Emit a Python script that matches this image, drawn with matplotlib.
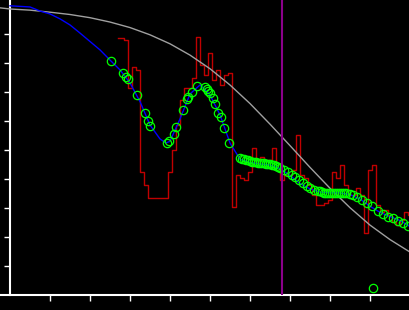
import matplotlib
matplotlib.use("Agg")
import matplotlib.pyplot as plt

# smooth reference curve (grey)
grey_x = [-2.5, 0, 5, 10, 15, 20, 25, 30, 35, 40, 45, 50, 55, 60, 65, 70, 75,
          80, 85, 90, 95, 100]
grey_y = [0.990, 0.986, 0.982, 0.975, 0.967, 0.956, 0.941, 0.922, 0.897, 0.866,
          0.827, 0.780, 0.724, 0.660, 0.589, 0.515, 0.440, 0.368, 0.301, 0.241,
          0.191, 0.148]

# fitted curve (blue)
blue_x = [0, 2.5, 5, 7.5, 10, 12.5, 15, 17.5, 20, 22.5, 25, 27.5, 30, 32.5, 35,
          37.5, 39, 40, 42.5, 45, 47.5, 50, 52.5, 55, 57.5, 60, 62.5, 65, 67.5,
          70, 72.5, 75, 77.5, 80, 82.5, 85, 87.5, 90, 92.5, 95, 97.5, 100]
blue_y = [0.997, 0.995, 0.993, 0.979, 0.969, 0.952, 0.931, 0.903, 0.874, 0.845,
          0.810, 0.776, 0.731, 0.667, 0.586, 0.538, 0.524, 0.530, 0.607, 0.693,
          0.724, 0.690, 0.621, 0.524, 0.468, 0.457, 0.452, 0.448, 0.436, 0.412,
          0.384, 0.366, 0.355, 0.352, 0.352, 0.346, 0.331, 0.306, 0.285, 0.270,
          0.257, 0.236]

# raw measurement (red)
red_x = list(range(27, 101))
red_y = [0.886, 0.886, 0.879, 0.714, 0.786, 0.776, 0.424, 0.379, 0.334, 0.334,
         0.334, 0.334, 0.334, 0.424, 0.500, 0.586, 0.672, 0.714, 0.714, 0.748,
         0.890, 0.793, 0.759, 0.834, 0.741, 0.776, 0.724, 0.759, 0.766, 0.303,
         0.414, 0.403, 0.397, 0.424, 0.507, 0.455, 0.476, 0.466, 0.466, 0.507,
         0.455, 0.397, 0.414, 0.414, 0.431, 0.552, 0.414, 0.403, 0.379, 0.345,
         0.310, 0.310, 0.317, 0.328, 0.424, 0.403, 0.448, 0.379, 0.345, 0.345,
         0.369, 0.345, 0.214, 0.431, 0.448, 0.310, 0.286, 0.293, 0.276, 0.252,
         0.241, 0.259, 0.286, 0.276]

# sampled points (green circles)
pts_x = [25.25, 28.25, 29.0, 29.5, 31.75, 33.75, 34.5, 35.0, 39.25, 39.75,
         41.0, 41.5, 43.25, 44.25, 44.5, 45.5, 46.75, 48.75, 49.25, 49.5, 50.0,
         50.75, 51.25, 52.0, 52.75, 53.5, 54.75,
         57.5, 58.0, 58.5, 59.0, 59.5, 60.0, 60.5, 61.0, 61.5, 62.0, 62.5, 63.0,
         63.5, 64.0, 64.5, 65.0, 65.5, 66.0, 66.5, 67.0, 67.5,
         68.5, 69.5, 70.5, 71.25, 72.25, 73.25, 74.25, 75.0, 76.0, 77.0, 77.5,
         78.0, 78.5, 79.0, 79.5, 80.0, 80.5, 81.0, 81.5, 82.0, 82.5, 83.0, 83.5,
         84.0, 85.0, 85.75, 86.75, 88.0, 89.25, 90.5, 92.0, 93.25, 94.5, 95.75,
         97.0, 98.25, 99.5, 90.75]
pts_y = [0.807, 0.766, 0.752, 0.745, 0.690, 0.628, 0.600, 0.583, 0.524, 0.531,
         0.555, 0.579, 0.638, 0.676, 0.683, 0.700, 0.721, 0.717, 0.710, 0.703,
         0.697, 0.679, 0.659, 0.628, 0.614, 0.576, 0.524,
         0.472, 0.470, 0.468, 0.466, 0.464, 0.461, 0.459, 0.459, 0.458, 0.455,
         0.455, 0.455, 0.455, 0.453, 0.452, 0.452, 0.449, 0.447, 0.445, 0.441,
         0.438,
         0.431, 0.424, 0.414, 0.407, 0.397, 0.386, 0.376, 0.369, 0.362, 0.359,
         0.357, 0.354, 0.352, 0.352, 0.352, 0.352, 0.352, 0.352, 0.352, 0.352,
         0.352, 0.352, 0.352, 0.351, 0.348, 0.345, 0.338, 0.328, 0.317, 0.307,
         0.290, 0.279, 0.269, 0.266, 0.255, 0.248, 0.238, 0.024]

marker_x = 68.1

x_ticks = [10, 20, 30, 40, 50, 60, 70, 80, 90]
y_ticks = [0.1, 0.2, 0.3, 0.4, 0.5, 0.6, 0.7, 0.8, 0.9]

fig = plt.figure(figsize=(4.1, 3.1), dpi=100, facecolor="black")
ax = fig.add_axes([0, 15 / 310, 1, 295 / 310], facecolor="black")

ax.plot(red_x, red_y, color="#c00000", lw=1, drawstyle="steps-mid", zorder=2)
ax.plot(grey_x, grey_y, color="#a0a0a0", lw=1, zorder=3)
ax.plot(blue_x, blue_y, color="#0000ff", lw=1, zorder=4)
ax.plot(pts_x, pts_y, "o", ls="none", mfc="none", mec="#00ff00",
        ms=6, mew=0.9, zorder=5)
ax.axvline(marker_x, color="#8b008b", lw=1.5, zorder=6)

ax.set_xlim(-2.5, 100)
ax.set_ylim(0, 1.017)
ax.set_xticks(x_ticks)
ax.set_yticks(y_ticks)
ax.set_xticklabels([])
ax.set_yticklabels([])

ax.spines["left"].set_position(("data", 0))
for side in ("top", "right"):
    ax.spines[side].set_visible(False)
for side in ("left", "bottom"):
    ax.spines[side].set_color("white")
    ax.spines[side].set_linewidth(1.5)
ax.tick_params(colors="white", length=4, width=1, direction="out")

fig.savefig("out.png", dpi=100, facecolor="black")
